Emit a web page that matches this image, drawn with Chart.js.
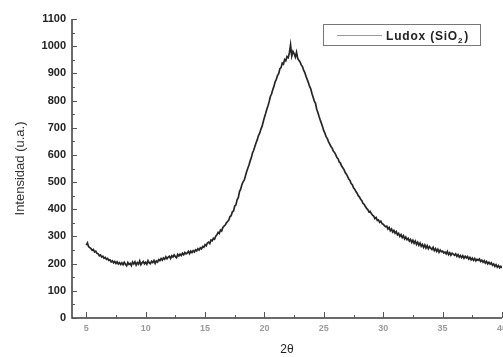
<!DOCTYPE html>
<html>
<head>
<meta charset="utf-8">
<script src="https://cdn.jsdelivr.net/npm/chart.js@4"></script>
<style>
  html, body { margin: 0; padding: 0; overflow: hidden; background: #fff; }
</style>
</head>
<body>
<canvas id="myChart" width="515" height="357"></canvas>
<script>
// 2theta scan: first angle and step, one row per degree
const startAngle = 5.0;
const angleStep = 0.1;
const intensity = [
  268, 276, 262, 259, 255, 249, 252, 243, 246, 238, // 5
  236, 229, 232, 224, 227, 220, 223, 216, 219, 212, // 6
  214, 206, 210, 203, 208, 201, 207, 199, 204, 197, // 7
  203, 196, 205, 198, 192, 204, 197, 201, 193, 206, // 8
  199, 207, 195, 204, 198, 210, 196, 203, 208, 199, // 9
  205, 198, 211, 203, 200, 209, 204, 212, 201, 210, // 10
  206, 215, 211, 219, 213, 221, 216, 225, 218, 224, // 11
  227, 219, 229, 224, 232, 226, 222, 234, 228, 235, // 12
  230, 238, 233, 241, 236, 239, 245, 237, 246, 241, // 13
  248, 243, 251, 247, 255, 250, 258, 254, 263, 260, // 14
  270, 266, 276, 279, 274, 287, 284, 293, 290, 301, // 15
  306, 315, 311, 324, 320, 333, 338, 342, 350, 355, // 16
  360, 373, 376, 391, 394, 412, 416, 435, 443, 465, // 17
  474, 490, 501, 507, 522, 538, 551, 563, 578, 590, // 18
  608, 617, 632, 645, 656, 671, 680, 694, 705, 722, // 19
  738, 752, 768, 781, 796, 815, 824, 840, 852, 869, // 20
  878, 892, 899, 917, 921, 938, 934, 951, 946, 962, // 21
  958, 975, 1005, 964, 981, 972, 960, 978, 955, 948, // 22
  942, 931, 925, 912, 903, 889, 878, 866, 852, 843, // 23
  826, 812, 798, 790, 768, 756, 741, 728, 716, 703, // 24
  688, 679, 666, 660, 648, 640, 631, 625, 614, 609, // 25
  601, 590, 586, 574, 570, 559, 553, 546, 535, 529, // 26
  521, 511, 506, 495, 490, 479, 474, 465, 459, 450, // 27
  445, 437, 432, 421, 418, 410, 403, 399, 390, 392, // 28
  384, 378, 375, 366, 370, 359, 361, 352, 356, 347, // 29
  345, 340, 336, 338, 327, 333, 321, 327, 316, 322, // 30
  312, 318, 306, 311, 300, 307, 296, 303, 291, 298, // 31
  288, 293, 283, 289, 278, 286, 275, 283, 271, 279, // 32
  268, 276, 264, 271, 260, 269, 257, 266, 255, 263, // 33
  257, 252, 260, 248, 255, 245, 253, 242, 250, 244, // 34
  246, 239, 243, 236, 245, 233, 240, 231, 238, 235, // 35
  231, 236, 227, 233, 224, 230, 222, 229, 220, 227, // 36
  221, 226, 217, 223, 214, 220, 212, 219, 210, 216, // 37
  212, 217, 208, 213, 205, 211, 202, 208, 199, 205, // 38
  198, 203, 194, 199, 190, 196, 187, 193, 185, 190, // 39
  184                                               // 40
];

const xTickValues = [5, 10, 15, 20, 25, 30, 35, 40];
const yTickValues = [0, 100, 200, 300, 400, 500, 600, 700, 800, 900, 1000, 1100];
const seriesName = "Ludox (SiO";
const seriesSub = "2";

const points = intensity.map((v, i) => ({ x: +(startAngle + i * angleStep).toFixed(1), y: v }));

// axis lines, inward ticks and the boxed legend
const frame = {
  id: "frame",
  afterDraw(chart) {
    const { ctx, chartArea: a, scales: { x, y } } = chart;
    ctx.save();
    ctx.strokeStyle = "#3a3a3a";
    ctx.lineWidth = 1.5;
    ctx.beginPath();
    ctx.moveTo(a.left, a.top);
    ctx.lineTo(a.left, a.bottom);
    ctx.lineTo(a.right, a.bottom);
    ctx.stroke();

    ctx.lineWidth = 1;
    ctx.strokeStyle = "#555";
    for (let v = 0; v <= 1100; v += 50) {
      const py = Math.round(y.getPixelForValue(v)) + 0.5;
      const len = v % 100 === 0 ? 5 : 3;
      ctx.beginPath();
      ctx.moveTo(a.left, py);
      ctx.lineTo(a.left + len, py);
      ctx.stroke();
    }
    for (let v = 5; v <= 40; v += 2.5) {
      const px = Math.round(x.getPixelForValue(v)) + 0.5;
      const len = v % 5 === 0 ? 6 : 3;
      ctx.beginPath();
      ctx.moveTo(px, a.bottom);
      ctx.lineTo(px, a.bottom - len);
      ctx.stroke();
    }

    // legend
    ctx.strokeStyle = "#777";
    ctx.strokeRect(323.5, 24.5, 157, 21);
    ctx.strokeStyle = "#999";
    ctx.beginPath();
    ctx.moveTo(337, 35.5);
    ctx.lineTo(382, 35.5);
    ctx.stroke();
    ctx.fillStyle = "#222";
    ctx.font = "bold 12px 'Liberation Sans'";
    ctx.letterSpacing = "0.8px";
    ctx.textBaseline = "alphabetic";
    ctx.fillText(seriesName, 386, 40);
    const w = ctx.measureText(seriesName).width;
    ctx.font = "bold 8px 'Liberation Sans'";
    ctx.fillText(seriesSub, 386 + w, 43);
    const w2 = ctx.measureText(seriesSub).width;
    ctx.font = "bold 12px 'Liberation Sans'";
    ctx.fillText(")", 386 + w + w2 + 1, 40);
    ctx.restore();
  }
};

const ctx = document.getElementById("myChart").getContext("2d");
const chart = new Chart(ctx, {
  type: "line",
  data: {
    datasets: [
      {
        label: seriesName + seriesSub + ")",
        data: points,
        borderColor: "#262626",
        borderWidth: 1.7,
        pointRadius: 0,
        tension: 0
      }
    ]
  },
  options: {
    responsive: false,
    animation: false,
    layout: { padding: { top: 19, right: 13, left: 0, bottom: 0 } },
    plugins: {
      legend: { display: false },
      tooltip: { enabled: false }
    },
    scales: {
      x: {
        type: "linear",
        min: 3.8,
        max: 40,
        afterBuildTicks: s => { s.ticks = xTickValues.map(v => ({ value: v })); },
        afterFit: s => { s.height = 39; },
        grid: { display: false, drawTicks: false },
        border: { display: false },
        ticks: {
          padding: 5,
          color: "#9a9a9a",
          autoSkip: false,
          maxRotation: 0,
          callback: v => String(v),
          font: { family: "Liberation Sans", size: 9, weight: "bold" }
        },
        title: {
          display: true,
          text: "2θ",
          color: "#222",
          padding: { top: 0, bottom: 0 },
          font: { family: "Liberation Sans", size: 12 }
        }
      },
      y: {
        min: 0,
        max: 1100,
        afterBuildTicks: s => { s.ticks = yTickValues.map(v => ({ value: v })); },
        afterFit: s => { s.width = 72; },
        grid: { display: false, drawTicks: false },
        border: { display: false },
        ticks: {
          padding: 6,
          color: "#222",
          callback: v => String(v),
          font: { family: "Liberation Sans", size: 11, weight: "bold" }
        },
        title: {
          display: true,
          text: "Intensidad (u.a.)",
          color: "#333",
          padding: { top: 13, bottom: 0 },
          font: { family: "Liberation Sans", size: 13 }
        }
      }
    }
  },
  plugins: [frame]
});
</script>
</body>
</html>
